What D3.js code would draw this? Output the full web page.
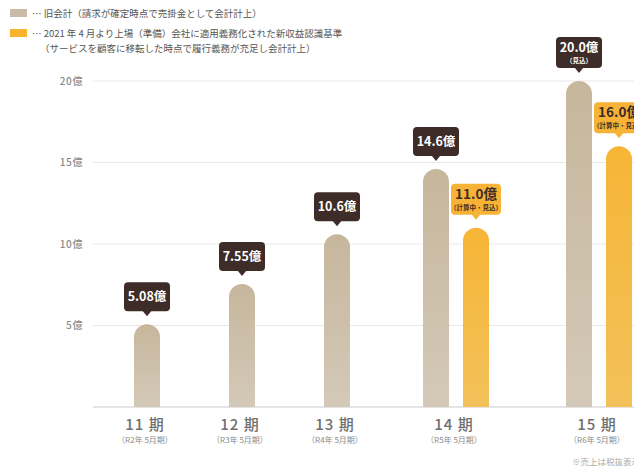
<!DOCTYPE html>
<html>
<head>
<meta charset="utf-8">
<script src="https://cdn.jsdelivr.net/npm/d3@7"></script>
<style>
  html, body { margin: 0; padding: 0; background: #fff; overflow: hidden; }
  svg { display: block; font-family: "Noto Sans CJK JP", "Noto Sans", sans-serif; }
</style>
</head>
<body>
<svg id="chart" width="634" height="468"></svg>
<script>
// ---- data ----
const categories = ["11", "12", "13", "14", "15"];
const categoryLabels = ["11 期", "12 期", "13 期", "14 期", "15 期"];
const periodLabels = ["（R2年 5月期）", "（R3年 5月期）", "（R4年 5月期）", "（R5年 5月期）", "（R6年 5月期）"];
const oldValues = [5.08, 7.55, 10.6, 14.6, 20.0];
const oldValueLabels = ["5.08億", "7.55億", "10.6億", "14.6億", "20.0億"];
const oldNotes = ["", "", "", "", "（見込）"];
const newValues = [null, null, null, 11.0, 16.0];
const newValueLabels = ["", "", "", "11.0億", "16.0億"];
const newNotes = ["", "", "", "（計算中・見込）", "（計算中・見込）"];
const yTicks = [5, 10, 15, 20];
const yTickLabels = ["5億", "10億", "15億", "20億"];
const legendLabels = [
  "… 旧会計（請求が確定時点で売掛金として会計計上）",
  "… 2021 年 4 月より上場（準備）会社に適用義務化された新収益認識基準"
];
const legendSubLabel = "（サービスを顧客に移転した時点で履行義務が充足し会計計上）";
const footnote = "※売上は税抜表示";

// ---- style ----
const tipDark = "#3d2c28";
const svg = d3.select("#chart");

const defs = svg.append("defs");
const gOld = defs.append("linearGradient").attr("id", "gOld").attr("x1", 0).attr("x2", 0).attr("y1", 0).attr("y2", 1);
gOld.append("stop").attr("offset", "0%").attr("stop-color", "#c6b69c");
gOld.append("stop").attr("offset", "100%").attr("stop-color", "#d4c9b8");
const gNew = defs.append("linearGradient").attr("id", "gNew").attr("x1", 0).attr("x2", 0).attr("y1", 0).attr("y2", 1);
gNew.append("stop").attr("offset", "0%").attr("stop-color", "#f6b536");
gNew.append("stop").attr("offset", "100%").attr("stop-color", "#f3c15a");

// ---- scales ----
const y = d3.scaleLinear().domain([0, 20]).range([407, 81]);

// group width depends on number of series in the category
const nSeries = categories.map((c, i) => newValues[i] == null ? 1 : 2);
const singleW = 95, extraW = 48;
const widths = nSeries.map(n => singleW + (n - 1) * extraW);
const centers = [];
let acc = 147;
widths.forEach((w, i) => {
  if (i > 0) acc += (widths[i - 1] + w) / 2;
  centers.push(acc);
});
const xCat = d3.scaleOrdinal().domain(categories).range(centers);
const pairOffset = 20;
const barW = 26;

// ---- legend ----
const lg = svg.append("g");
lg.append("rect").attr("x", 10).attr("y", 9).attr("width", 17).attr("height", 8).attr("fill", "#c9bba7");
lg.append("rect").attr("x", 10).attr("y", 29).attr("width", 17).attr("height", 8).attr("fill", "#f8b22c");
lg.append("text").attr("x", 32).attr("y", 16.5).text(legendLabels[0]);
lg.append("text").attr("x", 32).attr("y", 36.5).text(legendLabels[1]);
lg.append("text").attr("x", 40).attr("y", 51.5).text(legendSubLabel);
lg.selectAll("text").attr("font-size", 9.5).attr("fill", "#555");

// ---- grid & y axis ----
const gridG = svg.append("g");
gridG.selectAll("line").data([0].concat(yTicks)).join("line")
  .attr("x1", 93).attr("x2", 634)
  .attr("y1", d => y(d)).attr("y2", d => y(d))
  .attr("stroke", d => d === 0 ? "#dcdcdc" : "#e8e8e8").attr("stroke-width", d => d === 0 ? 1.5 : 1);
svg.append("g").selectAll("text").data(yTicks).join("text")
  .attr("x", 83).attr("y", d => y(d) + 3.5)
  .attr("text-anchor", "end").attr("font-size", 10).attr("font-weight", 500)
  .attr("letter-spacing", 0.6).attr("fill", "#8a8a8a")
  .text((d, i) => yTickLabels[i]);

// ---- bars ----
function barPath(cx, v) {
  const x0 = cx - barW / 2, x1 = cx + barW / 2, r = barW / 2;
  const yt = y(v), yb = y(0);
  return `M${x0},${yb} L${x0},${yt + r} A${r},${r} 0 0 1 ${x1},${yt + r} L${x1},${yb} Z`;
}
const bars = [];
categories.forEach((c, i) => {
  const two = newValues[i] != null;
  bars.push({ cx: xCat(c) - (two ? pairOffset : 0), v: oldValues[i], label: oldValueLabels[i], note: oldNotes[i], kind: "old" });
  if (two) bars.push({ cx: xCat(c) + pairOffset, v: newValues[i], label: newValueLabels[i], note: newNotes[i], kind: "new" });
});
svg.append("g").selectAll("path").data(bars).join("path")
  .attr("d", d => barPath(d.cx, d.v))
  .attr("fill", d => d.kind === "old" ? "url(#gOld)" : "url(#gNew)");

// ---- value callouts ----
const tg = svg.append("g");
bars.forEach(d => {
  const hasNote = d.note !== "";
  const w = d.kind === "old" ? 46 : 50;
  const h = hasNote ? 31 : 29;
  const tip = y(d.v) - 8;
  const bottom = tip - 5;
  const top = bottom - h;
  const fill = d.kind === "old" ? tipDark : "#f6b335";
  const txt = d.kind === "old" ? "#ffffff" : tipDark;
  const g = tg.append("g");
  g.append("rect").attr("x", d.cx - w / 2).attr("y", top).attr("width", w).attr("height", h)
    .attr("rx", 4).attr("fill", fill);
  g.append("path").attr("d", `M${d.cx - 4.5},${bottom - 0.5} L${d.cx},${tip} L${d.cx + 4.5},${bottom - 0.5} Z`).attr("fill", fill);
  g.append("text").attr("x", d.cx).attr("y", hasNote ? top + 15 : top + 19)
    .attr("text-anchor", "middle").attr("font-size", d.kind === "old" ? 12.5 : 13.5).attr("font-weight", 700)
    .attr("fill", txt).text(d.label);
  if (hasNote) {
    g.append("text").attr("x", d.cx).attr("y", top + 26)
      .attr("text-anchor", "middle").attr("font-size", 6.5).attr("font-weight", 700)
      .attr("fill", txt).text(d.note);
  }
});

// ---- x labels ----
const xl = svg.append("g");
xl.selectAll("text.cat").data(categories).join("text").attr("class", "cat")
  .attr("x", d => xCat(d) - 2).attr("y", 430)
  .attr("text-anchor", "middle").attr("font-size", 15).attr("font-weight", 500)
  .attr("letter-spacing", 1).attr("fill", "#707070")
  .text((d, i) => categoryLabels[i]);
xl.selectAll("text.per").data(categories).join("text").attr("class", "per")
  .attr("x", d => xCat(d) - 2).attr("y", 443)
  .attr("text-anchor", "middle").attr("font-size", 8).attr("fill", "#8a8a8a")
  .text((d, i) => periodLabels[i]);

svg.append("text").attr("x", 572).attr("y", 465).attr("font-size", 8.5).attr("fill", "#aaaaaa").text(footnote);
</script>
</body>
</html>
